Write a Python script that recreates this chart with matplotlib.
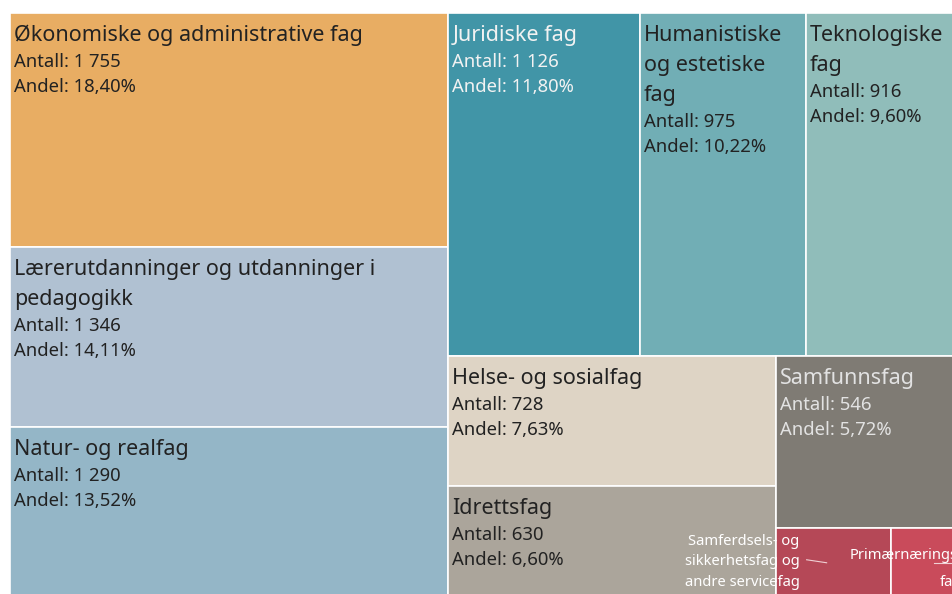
import matplotlib.pyplot as plt
from matplotlib.patches import Rectangle

plt.rcParams['font.family'] = ['Noto Sans', 'DejaVu Sans']

labels = ["Økonomiske og administrative fag",
          "Lærerutdanninger og utdanninger i\npedagogikk",
          "Natur- og realfag",
          "Juridiske fag",
          "Humanistiske\nog estetiske\nfag",
          "Teknologiske\nfag",
          "Helse- og sosialfag",
          "Idrettsfag",
          "Samfunnsfag",
          "Samferdsels- og\nsikkerhetsfag og\nandre servicefag",
          "Primærnærings-\nfag"]
antall = [1755, 1346, 1290, 1126, 975, 916, 728, 630, 546, 140, 87]
colors = ["#E8AD63", "#B0C1D2", "#94B6C7", "#4195A7", "#71AEB5", "#90BDBA",
          "#DED4C5", "#ABA59B", "#7F7B74", "#B54857", "#C94B5B"]
textcol = ["#222222", "#222222", "#222222", "#F2F2F2", "#222222", "#222222",
           "#222222", "#222222", "#E2E2E2", "#FFFFFF", "#FFFFFF"]
# how many tiles go in each strip of the treemap
groups = [3, 3, 2, 1, 1, 1]

total = sum(antall)


def strip_layout(vals, groups, x, y, w, h):
    scale = w * h / sum(vals)
    rects = []
    i = 0
    for n in groups:
        part = vals[i:i + n]
        area = sum(part) * scale
        if w >= h:
            cw = area / h
            yy = y
            for v in part:
                ch = v * scale / cw
                rects.append((x, yy, cw, ch))
                yy += ch
            x += cw
            w -= cw
        else:
            rh = area / w
            xx = x
            for v in part:
                rw = v * scale / rh
                rects.append((xx, y, rw, rh))
                xx += rw
            y += rh
            h -= rh
        i += n
    return rects


fig = plt.figure(figsize=(9.52, 5.94), dpi=100)
W, H = 952, 586
ax = fig.add_axes([10 / 952, -5 / 594, W / 952, H / 594])
ax.set_xlim(0, W)
ax.set_ylim(H, 0)
ax.axis("off")

rects = strip_layout(antall, groups, 0, 0, W, H)

for k, (x, y, w, h) in enumerate(rects):
    ax.add_patch(Rectangle((x, y), w, h, facecolor=colors[k],
                           edgecolor="white", linewidth=1.2))
    n = f"{antall[k]:,}".replace(",", " ")
    p = f"{antall[k] / total * 100:.2f}".replace(".", ",") + "%"
    if k < 9:
        off = -28
        for line in labels[k].split("\n"):
            ax.annotate(line, (x, y), xytext=(4, off), textcoords="offset pixels",
                        fontsize=15.5, color=textcol[k], ha="left", va="baseline")
            off -= 30
        off += 4
        ax.annotate("Antall: " + n, (x, y), xytext=(4, off), textcoords="offset pixels",
                    fontsize=13.3, color=textcol[k], ha="left", va="baseline")
        ax.annotate("Andel: " + p, (x, y), xytext=(4, off - 25), textcoords="offset pixels",
                    fontsize=13.3, color=textcol[k], ha="left", va="baseline")
    elif k == 9:
        off = -17
        for line in labels[k].split("\n"):
            ax.annotate(line, (x, y), xytext=(24, off), textcoords="offset pixels",
                        fontsize=10.6, color=textcol[k], ha="right", va="baseline")
            off -= 20.5
        ax.plot([x + 31, x + 51], [y + 32, y + 35], color="#F0D0D4", lw=0.8)
    else:
        lines = labels[k].split("\n")
        ax.annotate(lines[0], (x + w, y), xytext=(0, -31), textcoords="offset pixels",
                    fontsize=10.6, color=textcol[k], ha="right", va="baseline")
        ax.annotate(lines[1], (x + w, y), xytext=(0, -58), textcoords="offset pixels",
                    fontsize=10.6, color=textcol[k], ha="right", va="baseline")
        ax.plot([x + 43, x + w], [y + 35, y + 35], color="#F0D0D4", lw=0.8)

fig.savefig("out.png", dpi=100)
